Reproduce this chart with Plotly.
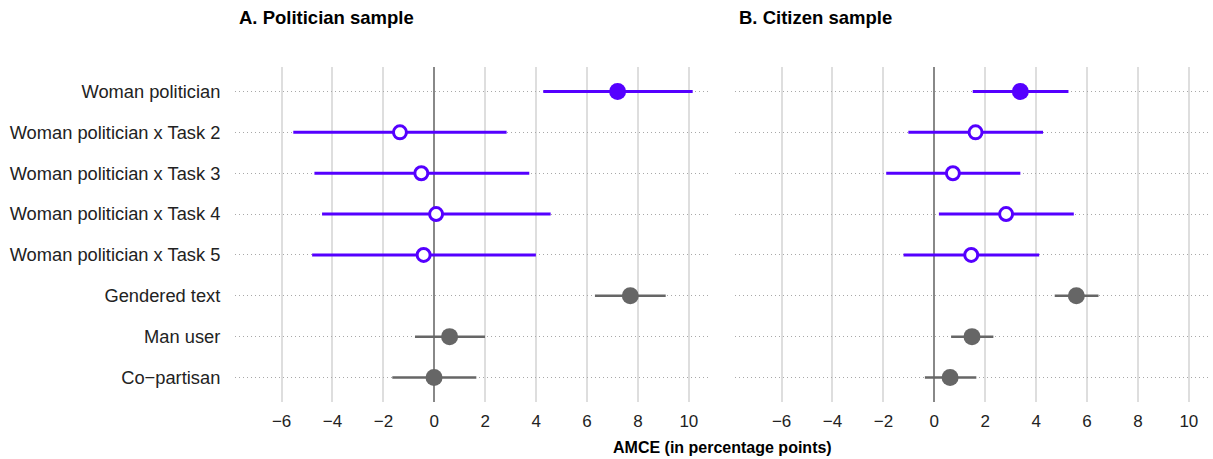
import plotly.graph_objects as go

terms = ["Woman politician", "Woman politician x Task 2", "Woman politician x Task 3",
         "Woman politician x Task 4", "Woman politician x Task 5", "Gendered text",
         "Man user", "Co\u2212partisan"]
is_interaction = [False, True, True, True, True, False, False, False]
is_woman = [True, True, True, True, True, False, False, False]

pol_est = [7.20, -1.35, -0.51, 0.07, -0.42, 7.70, 0.60, -0.01]
pol_lo = [4.28, -5.54, -4.71, -4.41, -4.80, 6.31, -0.76, -1.65]
pol_hi = [10.15, 2.84, 3.73, 4.57, 3.99, 9.09, 1.99, 1.65]

cit_est = [3.38, 1.62, 0.73, 2.82, 1.45, 5.58, 1.48, 0.62]
cit_lo = [1.51, -1.02, -1.89, 0.18, -1.21, 4.73, 0.66, -0.37]
cit_hi = [5.27, 4.27, 3.38, 5.48, 4.12, 6.45, 2.32, 1.65]

xticks = [-6, -4, -2, 0, 2, 4, 6, 8, 10]
xtick_text = ["\u22126", "\u22124", "\u22122", "0", "2", "4", "6", "8", "10"]

PURPLE = "#5500ff"
GRAY = "#666666"
FONT = "Liberation Sans, Arial, sans-serif"

fig = go.Figure()

def add_panel(est, lo, hi, xa, ya):
    for i, t in enumerate(terms):
        col = PURPLE if is_woman[i] else GRAY
        open_m = is_interaction[i]
        fig.add_trace(go.Scatter(
            x=[est[i]], y=[t], xaxis=xa, yaxis=ya, mode="markers",
            showlegend=False, hoverinfo="skip",
            error_x=dict(type="data", symmetric=False,
                         array=[hi[i] - est[i]], arrayminus=[est[i] - lo[i]],
                         color=col, thickness=3 if is_woman[i] else 2.5, width=0),
            marker=dict(size=13 if open_m else 17,
                        color="white" if open_m else col,
                        line=dict(color=col, width=3 if open_m else 0)),
        ))

add_panel(pol_est, pol_lo, pol_hi, "x", "y")
add_panel(cit_est, cit_lo, cit_hi, "x2", "y2")

xcommon = dict(range=[-7.83, 10.83], tickvals=xticks, ticktext=xtick_text,
               showgrid=True, gridcolor="#dedede", gridwidth=1.5,
               zeroline=True, zerolinecolor="#888888", zerolinewidth=2,
               showline=False, ticks="outside", ticklen=4, tickcolor="rgba(0,0,0,0)",
               tickfont=dict(size=17, color="#222222", family=FONT))
ycommon = dict(type="category", categoryarray=terms, range=[7.6, -0.6],
               showgrid=True, gridcolor="#a8a8a8", gridwidth=1, griddash="1px,3px",
               zeroline=False, showline=False,
               ticks="outside", ticklen=10, tickcolor="rgba(0,0,0,0)",
               tickfont=dict(size=18.3, color="#222222", family=FONT))

ydom = [57 / 459, 392 / 459]
fig.update_layout(
    width=1213, height=459,
    margin=dict(l=0, r=0, t=0, b=0),
    paper_bgcolor="white", plot_bgcolor="white",
    xaxis=dict(domain=[235 / 1213, 710 / 1213], anchor="y", **xcommon),
    xaxis2=dict(domain=[735 / 1213, 1210 / 1213], anchor="y2", **xcommon),
    yaxis=dict(domain=ydom, anchor="x", **ycommon),
    yaxis2=dict(domain=ydom, anchor="x2", showticklabels=False, **ycommon),
    font=dict(family=FONT),
    annotations=[
        dict(text="<b>A. Politician sample</b>", x=237 / 1213, y=1 - 18 / 459,
             xref="paper", yref="paper", xanchor="left", yanchor="middle",
             showarrow=False, font=dict(size=18.5, color="black", family=FONT)),
        dict(text="<b>B. Citizen sample</b>", x=737 / 1213, y=1 - 18 / 459,
             xref="paper", yref="paper", xanchor="left", yanchor="middle",
             showarrow=False, font=dict(size=18.5, color="black", family=FONT)),
        dict(text="<b>AMCE (in percentage points)</b>", x=722 / 1213, y=1 - 447 / 459,
             xref="paper", yref="paper", xanchor="center", yanchor="middle",
             showarrow=False, font=dict(size=16, color="black", family=FONT)),
    ],
)

fig.write_html("out.html", config={"displayModeBar": False},
               post_script="document.body.style.margin='0';document.body.style.overflow='hidden';")
